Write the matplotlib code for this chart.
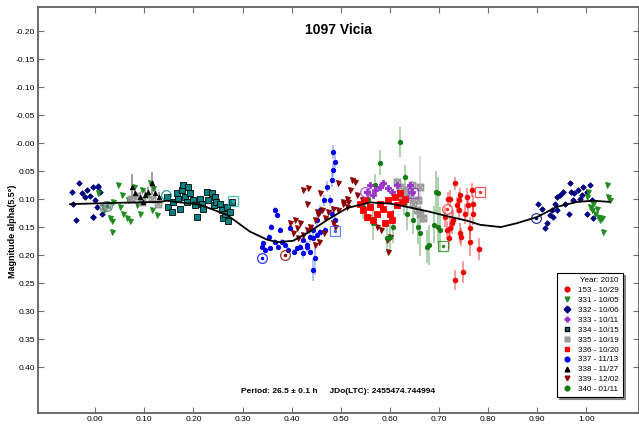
import numpy as np
import matplotlib
matplotlib.use("Agg")
import matplotlib.pyplot as plt
from matplotlib.lines import Line2D

plt.rcParams['font.family'] = ['Liberation Sans', 'DejaVu Sans']

# Fourier fit curve
fit_ph = [-0.051, 0.030, 0.132, 0.146, 0.213, 0.268, 0.315, 0.349, 0.370, 0.403, 0.437,
          0.472, 0.513, 0.560, 0.600, 0.641, 0.681, 0.722, 0.757, 0.784, 0.826, 0.859,
          0.900, 0.940, 0.981, 1.014, 1.048]
fit_mag = [0.109, 0.107, 0.105, 0.103, 0.110, 0.128, 0.158, 0.172, 0.177, 0.1745, 0.158,
           0.1375, 0.116, 0.106, 0.108, 0.115, 0.1226, 0.1316, 0.1385, 0.146, 0.150, 0.143,
           0.132, 0.114, 0.105, 0.103, 0.105]

# 153 - 10/29 (red circles)
s153_ph = [0.733, 0.723, 0.740, 0.743, 0.757, 0.760, 0.767, 0.770, 0.753, 0.740, 0.736, 0.729, 0.723,
           0.716, 0.721, 0.743, 0.746, 0.763, 0.763, 0.770, 0.782, 0.750, 0.733, 0.726, 0.719, 0.712]
s153_mag = [0.072, 0.099, 0.102, 0.093, 0.096, 0.111, 0.084, 0.126, 0.126, 0.120, 0.111, 0.1375, 0.152,
            0.155, 0.170, 0.161, 0.167, 0.152, 0.176, 0.108, 0.189, 0.230, 0.245, 0.143, 0.099, 0.132]
s153_err = [0.012, 0.015, 0.014, 0.012, 0.015, 0.016, 0.012, 0.020, 0.018, 0.015, 0.014, 0.018, 0.020,
            0.016, 0.020, 0.018, 0.016, 0.020, 0.025, 0.015, 0.020, 0.020, 0.018, 0.020, 0.012, 0.018]

# 331 - 10/05 (green down triangles)
s331_ph = [0.006, 0.017, 0.023, 0.030, 0.034, 0.037, 0.047, 0.051, 0.057, 0.064, 0.067, 0.071, 0.078,
           0.085, 0.091, 0.095, 0.105, 0.112, 0.115, 0.118, 0.125, 0.034, 0.054,
           1.001, 1.008, 1.011, 1.014, 1.018, 1.025, 1.028, 1.032, 1.035, 1.042, 1.045, 1.048, 1.021, 1.004]
s331_mag = [0.090, 0.120, 0.111, 0.134, 0.140, 0.105, 0.075, 0.114, 0.126, 0.134, 0.102, 0.140, 0.078,
            0.111, 0.126, 0.084, 0.093, 0.072, 0.120, 0.081, 0.129, 0.158, 0.093,
            0.096, 0.114, 0.120, 0.108, 0.126, 0.132, 0.1375, 0.134, 0.158, 0.075, 0.096, 0.102, 0.117, 0.087]

# 332 - 10/06 (navy diamonds)
s332_ph = [-0.047, -0.032, -0.045, -0.039, -0.027, -0.021, -0.016, -0.011, -0.004, 0.000, 0.006, 0.010,
           0.003, -0.005, 0.013, 0.017, -0.004, 0.006,
           0.902, 0.909, 0.920, 0.916, 0.926, 0.930, 0.936, 0.940, 0.947, 0.953, 0.957, 0.964, 0.967,
           0.974, 0.976, 0.984, 0.987, 0.991, 0.994, 1.001, 1.001, 1.008, 1.011, 1.014, 0.970, 0.940, 0.933]
s332_mag = [0.088, 0.072, 0.108, 0.1375, 0.090, 0.097, 0.083, 0.095, 0.078, 0.102, 0.077, 0.087,
            0.114, 0.132, 0.126, 0.108, 0.132, 0.078,
            0.108, 0.117, 0.143, 0.152, 0.129, 0.120, 0.108, 0.096, 0.093, 0.087, 0.108, 0.126, 0.072,
            0.102, 0.090, 0.084, 0.099, 0.093, 0.078, 0.087, 0.126, 0.075, 0.102, 0.134, 0.087, 0.120, 0.132]

# 333 - 10/11 (purple plus)
s333_ph = [0.553, 0.560, 0.570, 0.580, 0.587, 0.597, 0.604, 0.614, 0.641, 0.645, 0.566]
s333_mag = [0.087, 0.075, 0.084, 0.078, 0.072, 0.081, 0.087, 0.075, 0.075, 0.087, 0.093]

# 334 - 10/15 (teal squares)
s334_ph = [0.146, 0.149, 0.156, 0.159, 0.166, 0.169, 0.173, 0.176, 0.179, 0.183, 0.186, 0.190, 0.193,
           0.200, 0.203, 0.207, 0.213, 0.217, 0.220, 0.227, 0.230, 0.237, 0.241, 0.244, 0.247, 0.254,
           0.258, 0.261, 0.264, 0.268, 0.271, 0.275, 0.278]
s334_mag = [0.096, 0.114, 0.123, 0.105, 0.090, 0.099, 0.117, 0.084, 0.075, 0.096, 0.105, 0.078, 0.090,
            0.102, 0.111, 0.132, 0.099, 0.108, 0.117, 0.087, 0.102, 0.090, 0.111, 0.096, 0.105, 0.108,
            0.120, 0.134, 0.126, 0.114, 0.140, 0.123, 0.105]

# 335 - 10/19 (gray)
s335_ph = [0.072, 0.085, 0.095, 0.115, 0.128, 0.015, 0.025,
           0.614, 0.621, 0.631, 0.641, 0.648, 0.655, 0.662, 0.668, 0.658, 0.645, 0.634, 0.624, 0.662]
s335_mag = [0.100, 0.095, 0.105, 0.100, 0.108, 0.115, 0.110,
            0.069, 0.078, 0.087, 0.096, 0.108, 0.120, 0.126, 0.134, 0.102, 0.075, 0.084, 0.099, 0.078]
s335_err = [0.005, 0.005, 0.005, 0.005, 0.005, 0.005, 0.005,
            0.008, 0.008, 0.008, 0.008, 0.008, 0.008, 0.008, 0.008, 0.008, 0.008, 0.008, 0.008, 0.055]

# 336 - 10/20 (red squares)
s336_ph = [0.539, 0.546, 0.553, 0.560, 0.566, 0.573, 0.580, 0.587, 0.597, 0.600, 0.611, 0.614, 0.621,
           0.624, 0.631, 0.604, 0.590, 0.550]
s336_mag = [0.108, 0.120, 0.132, 0.114, 0.1375, 0.126, 0.108, 0.117, 0.102, 0.126, 0.096, 0.111, 0.090,
            0.105, 0.099, 0.1375, 0.143, 0.102]

# 337 - 11/13 (blue circles)
s337_ph = [0.366, 0.370, 0.359, 0.376, 0.353, 0.342, 0.339, 0.346, 0.356, 0.366, 0.373, 0.380, 0.387,
           0.393, 0.397, 0.404, 0.410, 0.417, 0.424, 0.431, 0.437, 0.444, 0.451, 0.458, 0.468, 0.478,
           0.482, 0.488, 0.448, 0.488, 0.485, 0.482, 0.472, 0.465, 0.458, 0.451, 0.444, 0.437, 0.431,
           0.424, 0.444, 0.485]
s337_mag = [0.120, 0.129, 0.149, 0.155, 0.167, 0.179, 0.185, 0.191, 0.188, 0.176, 0.185, 0.176, 0.182,
            0.191, 0.152, 0.194, 0.188, 0.185, 0.173, 0.182, 0.194, 0.170, 0.164, 0.158, 0.155, 0.102,
            0.126, 0.1375, 0.206, 0.033, 0.048, 0.066, 0.078, 0.102, 0.120, 0.1375, 0.155, 0.167, 0.185,
            0.197, 0.227, 0.016]
s337_err = [0.005, 0.005, 0.005, 0.005, 0.005, 0.005, 0.005, 0.005, 0.005, 0.005, 0.005, 0.005, 0.005,
            0.005, 0.005, 0.005, 0.005, 0.005, 0.005, 0.005, 0.005, 0.005, 0.005, 0.005, 0.005, 0.010,
            0.010, 0.010, 0.030, 0.012, 0.012, 0.012, 0.010, 0.010, 0.010, 0.010, 0.010, 0.010, 0.010,
            0.010, 0.020, 0.012]

# 338 - 11/27 (black triangles)
s338_ph = [0.074, 0.081, 0.091, 0.101, 0.108, 0.115, 0.122, 0.129, 0.098]
s338_mag = [0.078, 0.090, 0.096, 0.093, 0.087, 0.072, 0.090, 0.096, 0.105]
s338_err = [0.022, 0.010, 0.008, 0.010, 0.008, 0.020, 0.010, 0.008, 0.008]

# 339 - 12/02 (maroon down triangles)
s339_ph = [0.424, 0.434, 0.431, 0.458, 0.397, 0.407, 0.417, 0.410, 0.403, 0.414, 0.424, 0.431, 0.437,
           0.448, 0.451, 0.454, 0.461, 0.468, 0.475, 0.485, 0.495, 0.505, 0.512, 0.515, 0.485, 0.465,
           0.455, 0.448, 0.495, 0.505, 0.512, 0.519, 0.522, 0.529, 0.533, 0.543, 0.546, 0.556, 0.573,
           0.583, 0.594, 0.597, 0.600, 0.488]
s339_mag = [0.084, 0.081, 0.108, 0.090, 0.143, 0.1375, 0.143, 0.152, 0.161, 0.170, 0.164, 0.155, 0.149,
            0.1375, 0.123, 0.126, 0.120, 0.134, 0.123, 0.117, 0.120, 0.108, 0.114, 0.105, 0.143, 0.161,
            0.176, 0.182, 0.072, 0.105, 0.099, 0.084, 0.066, 0.069, 0.093, 0.102, 0.117, 0.132, 0.149,
            0.155, 0.173, 0.194, 0.167, 0.149]

# 340 - 01/11 (green circles)
s340_ph = [0.620, 0.580, 0.570, 0.631, 0.695, 0.689, 0.699, 0.675, 0.662, 0.594, 0.566, 0.607, 0.634,
           0.648, 0.628, 0.699, 0.679, 0.702, 0.556, 0.545, 0.600, 0.658]
s340_mag = [-0.002, 0.035, 0.075, 0.060, 0.087, 0.146, 0.149, 0.185, 0.161, 0.170, 0.143, 0.149, 0.126,
            0.1375, 0.108, 0.090, 0.182, 0.155, 0.100, 0.115, 0.167, 0.150]
s340_err = [0.027, 0.022, 0.020, 0.020, 0.038, 0.033, 0.030, 0.030, 0.040, 0.025, 0.030, 0.030, 0.030,
            0.025, 0.020, 0.030, 0.035, 0.040, 0.020, 0.020, 0.025, 0.030]

# first-point highlights (open symbols)
hl_ph = [0.340, 0.387, 0.488, 0.709, 0.784, 0.716, 0.898, 0.280, 0.144, 0.550, 0.648, 0.025]
hl_mag = [0.205, 0.200, 0.157, 0.184, 0.087, 0.117, 0.133, 0.103, 0.093, 0.087, 0.090, 0.112]
hl_mk = ['o', 'o', 's', 's', 's', 'o', 'o', 's', 'o', 'o', 's', 'o']
hl_col = ['blue', '#8b0000', '#4060ff', '#228b22', '#ff3030', '#ff3030', '#000080', '#20b2aa',
          '#008080', '#9932cc', '#9932cc', '#2e8b57']

fig = plt.figure(figsize=(6.39, 4.24), dpi=100)
ax = fig.add_axes([38 / 639, 11 / 424, 601 / 639, 406 / 424])

def series(ph, mag, err, color, marker, ms, mec=None, ecol=None):
    if err is not None:
        ax.errorbar(ph, mag, yerr=err, fmt='none', ecolor=ecol or color, elinewidth=1.2,
                    alpha=0.45, zorder=2)
    ax.plot(ph, mag, linestyle='none', marker=marker, color=color, ms=ms,
            mec=mec or color, mew=0.6, zorder=3)

series(s332_ph, s332_mag, None, '#000080', 'D', 2.8)
series(s331_ph, s331_mag, None, '#1e8b1e', 'v', 3.6)
series(s335_ph, s335_mag, s335_err, '#9a9a9a', '$\\boxtimes$', 5, ecol='#a0a0a0')
series(s338_ph, s338_mag, s338_err, 'black', '^', 3.2)
series(s334_ph, s334_mag, None, '#008080', 's', 4.0, mec='black')
series(s337_ph, s337_mag, s337_err, '#0000ee', 'o', 3.2, ecol='#4060ff')
series(s339_ph, s339_mag, None, '#8b0000', 'v', 3.6)
series(s340_ph, s340_mag, s340_err, '#137a13', 'o', 3.2, ecol='#2e8b2e')
series(s333_ph, s333_mag, None, '#9932cc', 'P', 4.2)
series(s336_ph, s336_mag, None, '#ff0000', 's', 3.8)
series(s153_ph, s153_mag, s153_err, '#ee0000', 'o', 3.4)

for p, m, mk, c in zip(hl_ph, hl_mag, hl_mk, hl_col):
    ax.plot(p, m, marker=mk, ms=7, mfc='none', mec=c, mew=0.9, alpha=0.8, zorder=4)
    ax.plot(p, m, marker='.', ms=3, color=c, zorder=4)

ax.plot(fit_ph, fit_mag, color='black', lw=1.3, zorder=5)

ax.set_xlim(-0.1165, 1.1075)
ax.set_ylim(0.482, -0.243)
ax.set_xticks(np.arange(0, 1.01, 0.1))
ax.set_yticks(np.arange(-0.20, 0.401, 0.05))
ax.xaxis.set_major_formatter(plt.FormatStrFormatter('%.2f'))
ax.yaxis.set_major_formatter(plt.FormatStrFormatter('%.2f'))
ax.tick_params(direction='in', length=4, width=0.8, color='#707070', labelsize=6,
               top=True, right=True, pad=2)
for sp in ax.spines.values():
    sp.set_color('#606060')
    sp.set_linewidth(1.3)

ax.text(0.5, 0.943, '1097 Vicia', transform=ax.transAxes, ha='center', va='center',
        fontsize=10, fontweight='bold')
ax.text(0.5, 0.054, 'Period: 26.5 \u00b1 0.1 h     JDo(LTC): 2455474.744994', transform=ax.transAxes,
        ha='center', va='center', fontsize=6, fontweight='bold')
ax.text(-0.0416, 0.448, 'Magnitude alpha(5.5\u00b0)', transform=ax.transAxes, rotation=90,
        ha='center', va='center', fontsize=6.5, fontweight='bold')

labels = ['153 - 10/29', '331 - 10/05', '332 - 10/06', '333 - 10/11', '334 - 10/15', '335 - 10/19',
          '336 - 10/20', '337 - 11/13', '338 - 11/27', '339 - 12/02', '340 - 01/11']
styles = [('o', '#ee0000', None), ('v', '#1e8b1e', None), ('D', '#000080', None),
          ('P', '#9932cc', None), ('s', '#008080', 'black'), ('$\\boxtimes$', '#9a9a9a', None),
          ('s', '#ff0000', None), ('o', '#0000ee', None), ('^', 'black', None),
          ('v', '#8b0000', None), ('o', '#137a13', None)]
handles = [Line2D([], [], linestyle='none', marker=mk, color=c, mec=e or c, ms=3.4)
           for mk, c, e in styles]
leg = ax.legend(handles, labels, title='Year: 2010', loc='lower left',
                bbox_to_anchor=(0.8636, 0.039), fontsize=5.8, title_fontsize=5.8, alignment='right',
                handlelength=1.4, handletextpad=0.7, borderpad=0.5, labelspacing=0.28,
                borderaxespad=0, fancybox=False, edgecolor='black',
                shadow={'ox': 1.5, 'oy': -1.5, 'color': '0.45', 'alpha': 0.8})
leg.get_frame().set_linewidth(0.8)

fig.savefig('out.png', dpi=100)
